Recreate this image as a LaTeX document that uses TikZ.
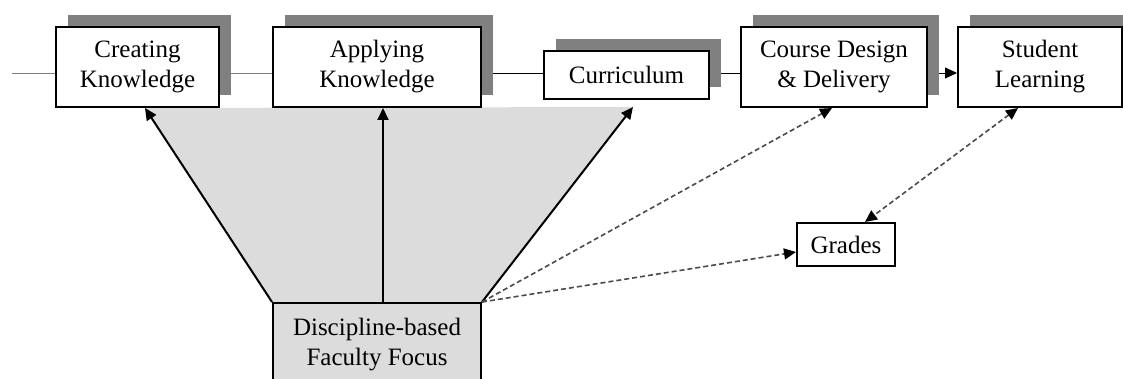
\documentclass[tikz,border=0pt]{standalone}
\usepackage{fontspec}
\setmainfont{Liberation Serif}
\usetikzlibrary{arrows.meta, shadows, backgrounds}
\definecolor{cshade}{HTML}{808080}
\definecolor{cfill}{HTML}{DCDCDC}
\definecolor{cline}{HTML}{7F7F7F}
\definecolor{cdash}{HTML}{4A4A4A}
\tikzset{
  every picture/.style={font=\fontsize{12.5}{15}\selectfont, line width=1pt},
  stage/.style={draw=black, fill=white, align=center, inner sep=0pt, minimum width=#1, minimum height=40pt,
    drop shadow={shadow xshift=6pt, shadow yshift=6pt, fill=cshade, opacity=1}},
  stage/.default=82pt,
  plainbox/.style={draw=black, fill=#1, align=center, inner sep=0pt},
  plainbox/.default=white,
  arrow/.style={-{Triangle[length=6pt, width=5.5pt]}},
  dasharrow/.style={draw=cdash, line width=0.8pt, dash pattern=on 2.5pt off 1.5pt, -{Triangle[length=6pt, width=5.5pt, black]}},
}

\begin{document}
\begin{tikzpicture}[x=0.5pt, y=-0.5pt]
  \useasboundingbox (0,0) rectangle (1123,379);
  \node[stage=81.5pt] (crk) at (137.5,67) {Creating\\Knowledge};
  \node[stage=104pt] (apk) at (377,67) {Applying\\Knowledge};
  \node[stage=82.5pt, minimum height=24pt] (cur) at (626.5,75) {Curriculum};
  \node[stage=93pt] (crs) at (834,67) {Course Design\\\& Delivery};
  \node[stage=82pt] (stl) at (1040,67) {Student\\Learning};
  \node[plainbox, minimum width=49pt, minimum height=21.5pt] (grd) at (846,244.5) {Grades};
  \node[plainbox=cfill, minimum width=104pt, minimum height=42pt] (dfb) at (377,345) {Discipline-based\\Faculty Focus};
  \coordinate (rail) at (12,73);
  \coordinate (tipa) at ([xshift=3.75pt]crk.south);
  \coordinate (tipb) at ([xshift=3pt]apk.south);
  \coordinate (tipc) at (633,107);
  \begin{scope}[on background layer]
    \fill[cfill] (dfb.north west) -- (tipa) -- (tipc) -- (dfb.north east) -- cycle;
    \draw[cline] (rail) -- (rail -| crk.west);
    \draw[cline] (rail -| crk.east) -- (rail -| apk.west);
    \draw (rail -| apk.east) -- (rail -| cur.west);
    \draw (rail -| cur.east) -- (rail -| crs.west);
    \draw[arrow] (rail -| crs.east) -- (rail -| stl.west);
  \end{scope}
  \draw[arrow] (dfb.north west) -- (tipa);
  \draw[arrow] ([xshift=3pt]dfb.north) -- (tipb);
  \draw[arrow] (dfb.north east) -- (tipc);
  \draw[dasharrow] (dfb.north east) -- ([xshift=-1pt]crs.south);
  \draw[dasharrow] (dfb.north east) -- ([yshift=-3.75pt]grd.west);
  \draw[dasharrow, {Triangle[length=6pt, width=5.5pt, black]}-{Triangle[length=6pt, width=5.5pt, black]}] ([xshift=-11pt]stl.south) -- ([xshift=9.5pt]grd.north);
\end{tikzpicture}
\end{document}
